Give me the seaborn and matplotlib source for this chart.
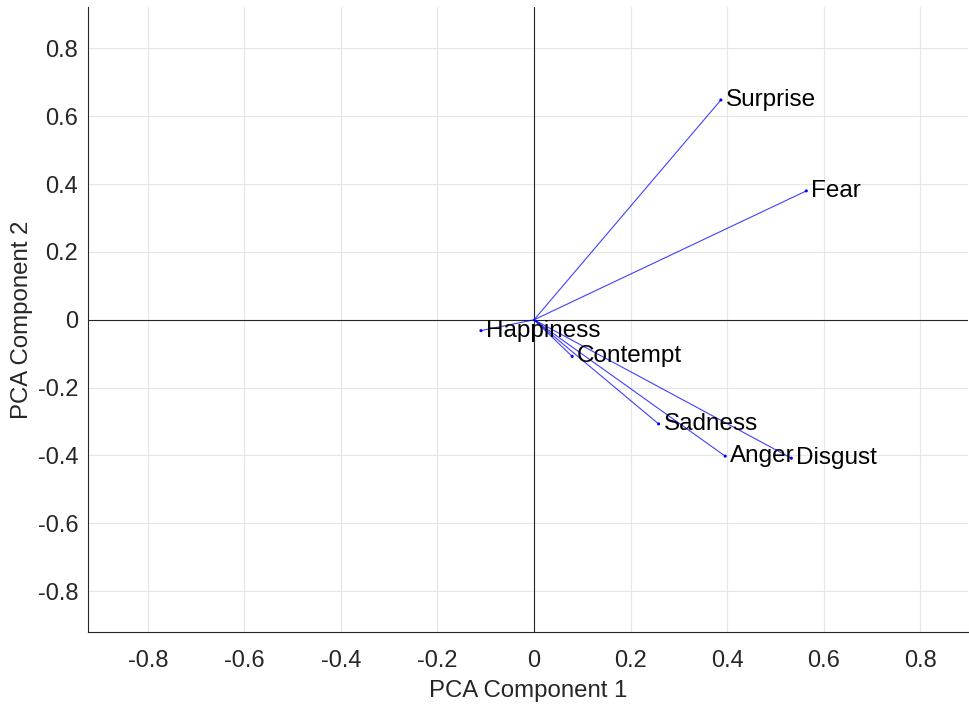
import numpy as np
import pandas as pd
import matplotlib
matplotlib.use("Agg")
import matplotlib.pyplot as plt
import seaborn as sns

# Data (PCA loadings)
variables = ["Surprise", "Fear", "Happiness", "Contempt", "Sadness", "Anger", "Disgust"]
pc1 = [0.387, 0.564, -0.110, 0.079, 0.258, 0.396, 0.533]
pc2 = [0.648, 0.380, -0.032, -0.108, -0.307, -0.402, -0.408]
x_ticks = [-0.8, -0.6, -0.4, -0.2, 0, 0.2, 0.4, 0.6, 0.8]
y_ticks = [-0.8, -0.6, -0.4, -0.2, 0, 0.2, 0.4, 0.6, 0.8]

sns.set_theme(style="white")
plt.rcParams["font.family"] = ["Liberation Sans", "DejaVu Sans"]

fig = plt.figure(figsize=(9.69, 7.04), dpi=100)
ax = fig.add_axes([0.0908, 0.102, 0.9082, 0.888])

# segment table: origin -> loading for each variable
seg = pd.DataFrame({
    "var": [v for v in variables for _ in range(2)],
    "order": [i for _ in variables for i in range(2)],
    "x": [val for p in pc1 for val in (0.0, p)],
    "y": [val for p in pc2 for val in (0.0, p)],
})
ends = pd.DataFrame({"var": variables, "x": pc1, "y": pc2})

# reference axes lines
ax.axhline(0, color="#262626", lw=0.8, zorder=1)
ax.axvline(0, color="#262626", lw=0.8, zorder=1)

sns.lineplot(data=seg, x="x", y="y", units="var", estimator=None, sort=False,
             color="blue", lw=0.8, alpha=0.75, ax=ax, zorder=3)
sns.scatterplot(data=ends, x="x", y="y", color="blue", s=5, edgecolor="none",
                ax=ax, zorder=4)

for v, xv, yv in zip(variables, pc1, pc2):
    ax.annotate(v, (xv, yv), xytext=(3.5, 0), textcoords="offset points",
                ha="left", va="center", fontsize=17.5, color="black", zorder=5)

ax.set_xlim(-0.924, 0.899)
ax.set_ylim(-0.921, 0.922)
ax.set_xticks(x_ticks)
ax.set_yticks(y_ticks)
ax.set_xticklabels([("%g" % t) for t in x_ticks])
ax.set_yticklabels([("%g" % t) for t in y_ticks])

ax.grid(True, color="#e6e6e6", lw=0.8)
ax.set_axisbelow(True)
for s in ["top", "right"]:
    ax.spines[s].set_visible(False)
for s in ["left", "bottom"]:
    ax.spines[s].set_color("#262626")
    ax.spines[s].set_linewidth(0.8)

ax.tick_params(axis="both", direction="in", length=5, width=0.8,
               colors="#262626", labelsize=17, pad=7, labelcolor="#262626")
ax.tick_params(axis="x", pad=12.5)

ax.set_xlabel("PCA Component 1", fontsize=17.3, color="#262626", labelpad=6)
ax.set_ylabel("PCA Component 2", fontsize=17.3, color="#262626", labelpad=3)

fig.savefig("out.png", dpi=100)
